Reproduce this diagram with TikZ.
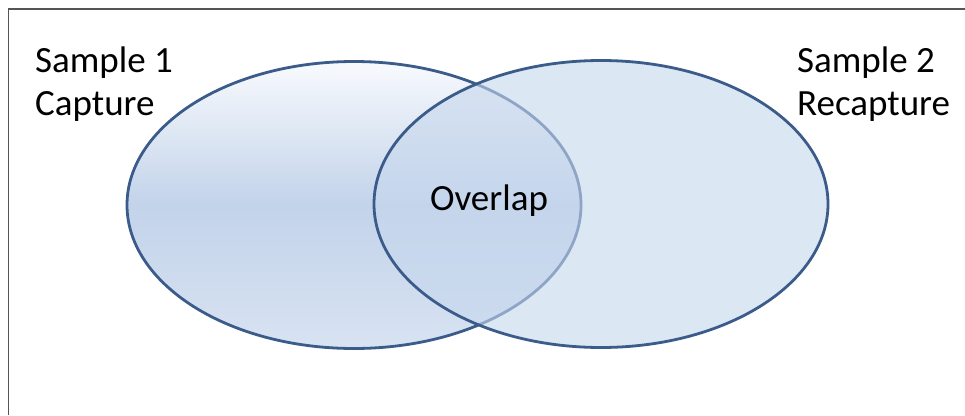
\documentclass[tikz,border=0pt]{standalone}
\usepackage{fontspec}
\setmainfont{Carlito}
\usetikzlibrary{shapes.geometric}
\definecolor{edgeblue}{HTML}{3B5C8A}
\definecolor{rightfill}{HTML}{C6D7ED}
\definecolor{lefttop}{HTML}{F8FAFD}
\definecolor{leftmid}{HTML}{C3D3EA}
\definecolor{leftbot}{HTML}{D8E3F2}
\definecolor{framegray}{HTML}{555555}
\tikzset{
  venn/.style={ellipse, inner sep=0pt, minimum width=454pt, minimum height=287pt, line width=2.8pt},
  lbl/.style={font=\fontsize{37}{39}\selectfont, inner sep=0pt, anchor=base west, text=black},
}
\begin{document}
\begin{tikzpicture}[x=1pt,y=-1pt]
\useasboundingbox (0,0) rectangle (965,415);
\fill[white] (0,0) rectangle (965,415);
\draw[framegray, line width=1.5pt] (8.5,415) -- (8.5,9) -- (965,9);
\node[venn, draw=edgeblue, top color=lefttop, bottom color=leftbot, middle color=leftmid] (left) at (354,205) {};
\node[venn, draw=edgeblue, fill=rightfill, fill opacity=0.6, draw opacity=1] (right) at (601,204) {};
\node[lbl] (s1) at (35,72) {Sample 1};
\node[lbl] (c1) at (35,115) {Capture};
\node[lbl] (s2) at (797,72) {Sample 2};
\node[lbl] (c2) at (797,115) {Recapture};
\node[lbl, anchor=base] (ov) at (489,210) {Overlap};
\end{tikzpicture}
\end{document}
